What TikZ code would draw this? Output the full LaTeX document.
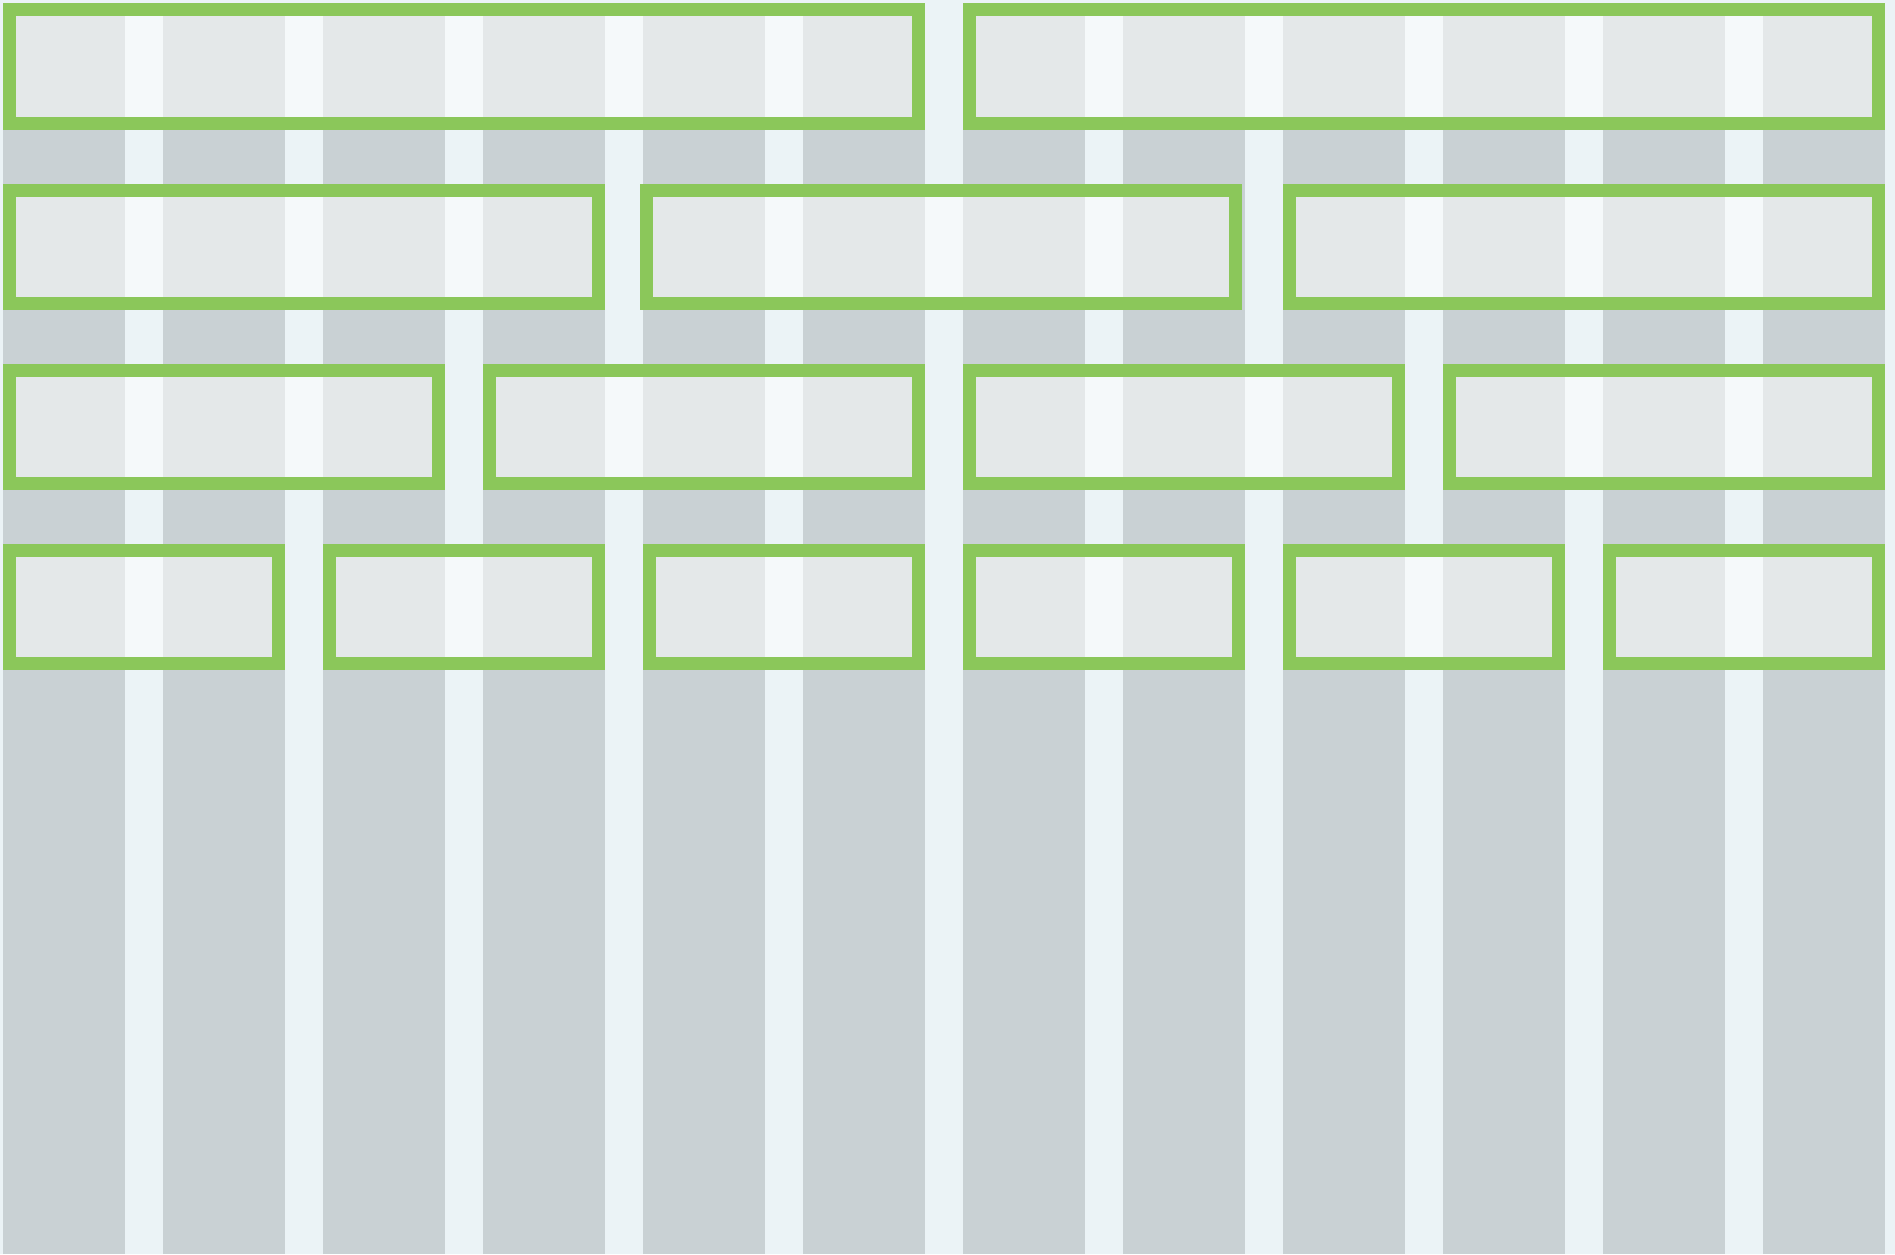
\documentclass[tikz,border=0pt]{standalone}
\definecolor{gutterc}{RGB}{235,243,246}
\definecolor{colc}{RGB}{201,209,212}
\definecolor{greenc}{RGB}{139,199,90}
\tikzset{
  colbar/.style={fill=colc, draw=none},
  gridbox/.style={draw=greenc, line width=13pt, fill=white, fill opacity=0.5, draw opacity=1},
}
\begin{document}
\begin{tikzpicture}[x=1pt,y=-1pt]
\fill[gutterc] (0,0) rectangle (1895,1254);
\useasboundingbox (0,0) rectangle (1895,1254);
% columns
\foreach \k in {0,...,11}{
  \fill[colbar] ({3+\k*160},3) rectangle ({3+\k*160+122},1254);
}
% boxes: outer left, outer right, outer top, outer bottom
\newcommand{\gbox}[4]{\draw[gridbox] ({#1+6.5},{#3+6.5}) rectangle ({#2-6.5},{#4-6.5});}
% row 1
\gbox{3}{925}{3}{130}
\gbox{963}{1885}{3}{130}
% row 2
\gbox{3}{605}{183.5}{310}
\gbox{640}{1242}{183.5}{310}
\gbox{1283}{1885}{183.5}{310}
% row 3
\gbox{3}{445}{363.5}{490}
\gbox{483}{925}{363.5}{490}
\gbox{963}{1405}{363.5}{490}
\gbox{1443}{1885}{363.5}{490}
% row 4
\gbox{3}{285}{543.5}{670}
\gbox{323}{605}{543.5}{670}
\gbox{643}{925}{543.5}{670}
\gbox{963}{1245}{543.5}{670}
\gbox{1283}{1565}{543.5}{670}
\gbox{1603}{1885}{543.5}{670}
\end{tikzpicture}
\end{document}
